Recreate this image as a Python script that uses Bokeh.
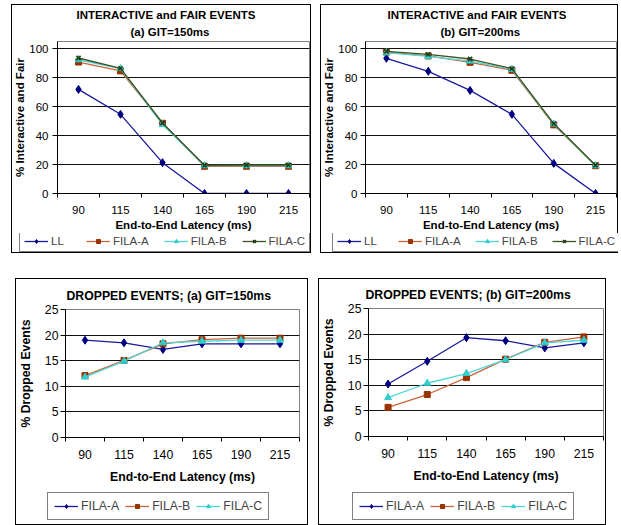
from bokeh.plotting import figure
from bokeh.models import Range1d, FixedTicker, Legend, LegendItem, Title, Spacer
from bokeh.layouts import column, row
from bokeh.embed import file_html
from bokeh.resources import INLINE

latency = ["90", "115", "140", "165", "190", "215"]

# % Interactive and Fair, GIT=150ms
if150_ll = [71.9, 54.7, 21.3, 0.0, 0.0, 0.0]
if150_a = [90.8, 84.7, 48.5, 18.8, 18.8, 18.8]
if150_b = [92.4, 86.3, 47.6, 19.2, 19.2, 19.2]
if150_c = [93.6, 86.5, 48.7, 19.5, 19.7, 19.7]

# % Interactive and Fair, GIT=200ms
if200_ll = [93.4, 84.4, 71.2, 54.7, 20.8, 0.0]
if200_a = [97.7, 95.0, 90.6, 85.1, 47.4, 19.2]
if200_b = [97.3, 94.7, 91.5, 85.8, 48.0, 19.2]
if200_c = [98.2, 96.1, 92.9, 86.3, 48.3, 19.5]

# % Dropped events, GIT=150ms
dr150_a = [19.0, 18.5, 17.2, 18.3, 18.3, 18.3]
dr150_b = [12.1, 15.05, 18.3, 19.1, 19.4, 19.4]
dr150_c = [11.8, 14.9, 18.5, 18.8, 19.0, 19.0]

# % Dropped events, GIT=200ms
dr200_a = [10.25, 14.7, 19.3, 18.7, 17.3, 18.3]
dr200_b = [5.7, 8.2, 11.5, 15.1, 18.4, 19.45]
dr200_c = [7.6, 10.4, 12.3, 15.0, 18.3, 18.8]

top_yticks = [0, 20, 40, 60, 80, 100]
bot_yticks = [0, 5, 10, 15, 20, 25]

FONT = "Liberation Sans"

NAVY = ("#1a1a9c", "#000080", "diamond", 8)
BROWN = ("#c8643a", "#993300", "square", 6)
CYAN = ("#4fd6d6", "#33cccc", "triangle", 7)
GREEN = ("#3f5224", "#1e3d14", "x", 6)


def add_series(p, xs, vals, style, visible=True):
    lc, mc, mk, ms = style
    r1 = p.line(xs, vals, line_color=lc, line_width=1.3)
    if mk == "x":
        r2 = p.scatter(xs, vals, marker=mk, size=ms, line_color=mc, line_width=1.5)
    else:
        r2 = p.scatter(xs, vals, marker=mk, size=ms, fill_color=mc, line_color=mc)
    r1.visible = visible
    r2.visible = visible
    return [r1, r2]


def make_panel(w, h, hl, bl, br, bt, bb, ymax, yticks, titles, toffs, tstand,
               ylabel, series, leg, fs, tick_pad, xlab_st, ylab_st, ytick_st):
    n = len(latency)
    p = figure(width=w, height=h, x_range=Range1d(0, n), y_range=Range1d(0, ymax),
               output_backend="svg", toolbar_location=None, title=None,
               min_border_left=bl, min_border_right=br, min_border_top=bt,
               min_border_bottom=bb, background_fill_color="white",
               border_fill_color=None)
    p.outline_line_color = "#808080"
    p.outline_line_width = 1
    p.xgrid.visible = False
    p.ygrid.ticker = FixedTicker(ticks=yticks)
    p.ygrid.grid_line_color = "#111111"
    p.ygrid.grid_line_width = 1

    xs = [i + 0.5 for i in range(n)]
    p.xaxis.ticker = FixedTicker(ticks=xs, minor_ticks=list(range(n + 1)))
    p.xaxis.major_label_overrides = {x: lab for x, lab in zip(xs, latency)}
    p.xaxis.major_tick_out = 0
    p.xaxis.major_tick_in = 0
    p.xaxis.minor_tick_out = 4
    p.xaxis.minor_tick_in = 0
    p.xaxis.minor_tick_line_color = "black"
    p.xaxis.major_label_standoff = tick_pad
    p.xaxis.axis_label = "End-to-End Latency (ms)"
    p.xaxis.axis_label_standoff = xlab_st

    p.yaxis.ticker = FixedTicker(ticks=yticks, minor_ticks=[])
    p.yaxis.major_tick_out = 5
    p.yaxis.major_tick_in = 0
    p.yaxis.major_label_standoff = ytick_st
    p.yaxis.axis_label = ylabel
    p.yaxis.axis_label_standoff = ylab_st

    for ax in (p.xaxis[0], p.yaxis[0]):
        ax.axis_line_color = "black"
        ax.major_tick_line_color = "black"
        ax.major_label_text_font = FONT
        ax.major_label_text_font_size = fs
        ax.major_label_text_color = "black"
        ax.axis_label_text_font = FONT
        ax.axis_label_text_font_size = fs
        ax.axis_label_text_font_style = "bold"
        ax.axis_label_text_color = "black"

    for line, off, st in zip(titles, toffs, tstand):
        t = Title(text=line, align="left", text_font=FONT, text_font_size=fs,
                  text_font_style="bold", text_color="black", offset=off,
                  standoff=st)
        p.add_layout(t, "above")

    # legend strip under the chart (same series, hidden renderers for the keys)
    q = figure(width=w, height=hl, x_range=Range1d(0, n), y_range=Range1d(0, ymax),
               output_backend="svg", toolbar_location=None, title=None,
               x_axis_type=None, y_axis_type=None,
               min_border_left=0, min_border_right=0, min_border_top=0,
               min_border_bottom=0, background_fill_color=None,
               border_fill_color=None, outline_line_color=None)
    items = []
    for label, vals, style in series:
        add_series(p, xs, vals, style)
        rs = add_series(q, xs, vals, style, visible=False)
        items.append(LegendItem(label=label, renderers=rs))

    dx, dy, pad, spacing, gw, lh = leg
    legend = Legend(items=items, orientation="horizontal", location=(dx, dy),
                    margin=0, padding=pad, spacing=spacing, glyph_width=gw,
                    glyph_height=lh, label_height=lh, label_standoff=3,
                    label_text_font=FONT, label_text_font_size=fs,
                    border_line_color="black", border_line_width=1,
                    background_fill_color="white", background_fill_alpha=1,
                    inactive_fill_alpha=0)
    q.add_layout(legend, "center")

    col = column(p, column(q))
    col.styles = {"outline": "1px solid black", "outline-offset": "-1px"}
    return col


s_top150 = [("LL", if150_ll, NAVY), ("FILA-A", if150_a, BROWN),
            ("FILA-B", if150_b, CYAN), ("FILA-C", if150_c, GREEN)]
s_top200 = [("LL", if200_ll, NAVY), ("FILA-A", if200_a, BROWN),
            ("FILA-B", if200_b, CYAN), ("FILA-C", if200_c, GREEN)]
s_bot150 = [("FILA-A", dr150_a, NAVY), ("FILA-B", dr150_b, BROWN),
            ("FILA-C", dr150_c, CYAN)]
s_bot200 = [("FILA-A", dr200_a, NAVY), ("FILA-B", dr200_b, BROWN),
            ("FILA-C", dr200_c, CYAN)]

p1 = make_panel(300, 229, 20, 44, 2, 37, 39, 105, top_yticks,
                ["(a) GIT=150ms", "INTERACTIVE and FAIR EVENTS"], [73, 19], [7, 0],
                "% Interactive and Fair", s_top150, (8, 1, 4, 15, 24, 10),
                "11.5px", 8, 2, 0, 4)
p2 = make_panel(298, 229, 20, 43, 2, 37, 39, 105, top_yticks,
                ["(b) GIT=200ms", "INTERACTIVE and FAIR EVENTS"], [75, 22], [7, 0],
                "% Interactive and Fair", s_top200, (12, 1, 4, 14, 24, 10),
                "11.5px", 8, 2, 0, 3)
p3 = make_panel(293, 212, 35, 48, 9, 31, 53, 25, bot_yticks,
                ["DROPPED EVENTS;  (a) GIT=150ms"], [1], [14],
                "% Dropped Events", s_bot150, (32, 5, 6, 6, 24, 10),
                "12.25px", 8, 8, 9, 2)
p4 = make_panel(288, 212, 35, 49, 3, 30, 54, 25, bot_yticks,
                ["DROPPED EVENTS;  (b) GIT=200ms"], [-3], [14],
                "% Dropped Events", s_bot200, (34, 5, 6, 6, 24, 10),
                "12.25px", 8, 8, 9, 2)

layout = column(
    Spacer(width=621, height=4),
    row(Spacer(width=11, height=249), p1, Spacer(width=9, height=249), p2),
    Spacer(width=621, height=25),
    row(Spacer(width=15, height=247), p3, Spacer(width=10, height=247), p4),
)

open("out.html", "w").write(file_html(layout, INLINE))
